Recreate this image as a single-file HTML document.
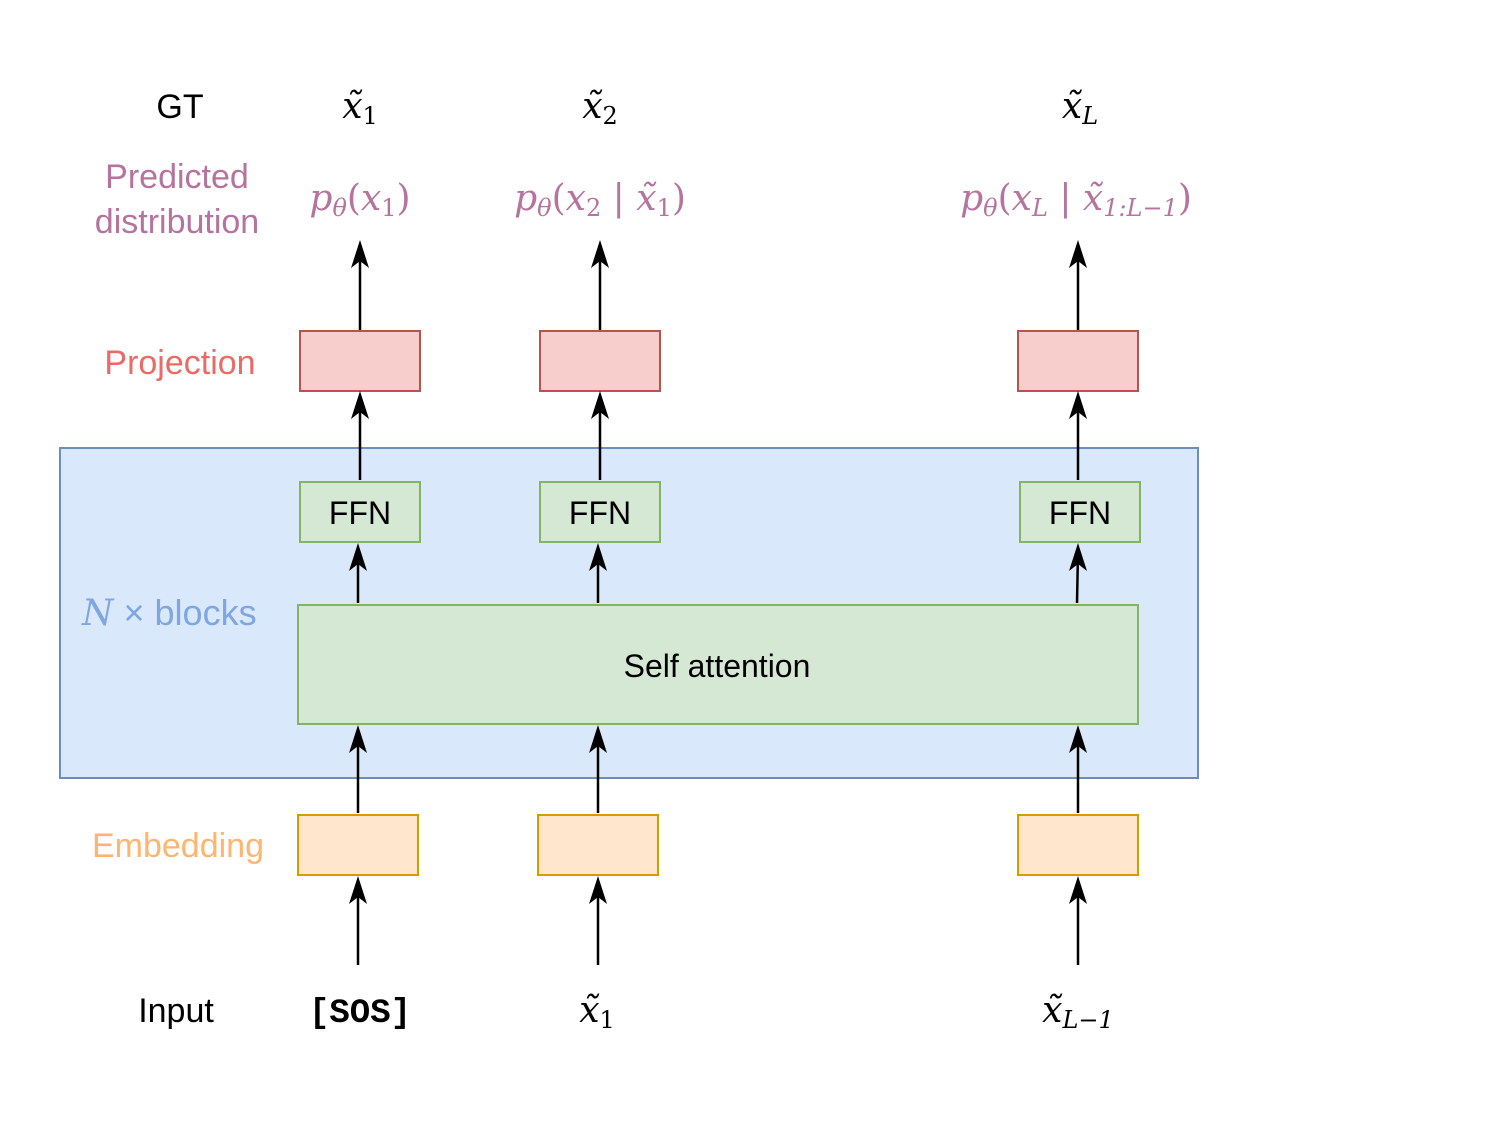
<!DOCTYPE html>
<html><head><meta charset="utf-8"><style>
body{margin:0;background:#fff;}
svg text{font-family:"Liberation Sans",sans-serif;}
svg text.m{font-family:"DejaVu Serif",serif;font-style:italic;}
</style></head><body>
<svg width="1485" height="1116" viewBox="0 0 1485 1116" xmlns="http://www.w3.org/2000/svg">
<rect x="60" y="448" width="1138" height="330" fill="#dae8fc" stroke="#6c8ebf" stroke-width="2"/>
<g fill="#f8cecc" stroke="#b85450" stroke-width="2">
<rect x="300" y="331" width="120" height="60"/><rect x="540" y="331" width="120" height="60"/><rect x="1018" y="331" width="120" height="60"/></g>
<g fill="#d5e8d4" stroke="#82b366" stroke-width="2">
<rect x="300" y="482" width="120" height="60"/><rect x="540" y="482" width="120" height="60"/><rect x="1020" y="482" width="120" height="60"/>
<rect x="298" y="605" width="840" height="119"/></g>
<g fill="#ffe6cc" stroke="#d79b00" stroke-width="2">
<rect x="298" y="815" width="120" height="60"/><rect x="538" y="815" width="120" height="60"/><rect x="1018" y="815" width="120" height="60"/></g>
<g stroke="#000" stroke-width="2.5">
<line x1="360" y1="330" x2="360" y2="250"/><line x1="600" y1="330" x2="600" y2="250"/><line x1="1078" y1="330" x2="1078" y2="250"/>
<line x1="360" y1="480" x2="360" y2="400"/><line x1="600" y1="480" x2="600" y2="400"/><line x1="1078" y1="480" x2="1078" y2="400"/>
<line x1="358" y1="603" x2="358" y2="552"/><line x1="598" y1="603" x2="598" y2="552"/><line x1="1077" y1="603" x2="1078" y2="552"/>
<line x1="358" y1="813" x2="358" y2="734"/><line x1="598" y1="813" x2="598" y2="734"/><line x1="1078" y1="813" x2="1078" y2="734"/>
<line x1="358" y1="965" x2="358" y2="885"/><line x1="598" y1="965" x2="598" y2="885"/><line x1="1078" y1="965" x2="1078" y2="885"/>
</g>
<g fill="#000">
<path d="M360 240 l-9 28 l9 -7 l9 7z"/><path d="M600 240 l-9 28 l9 -7 l9 7z"/><path d="M1078 240 l-9 28 l9 -7 l9 7z"/>
<path d="M360 391 l-9 28 l9 -7 l9 7z"/><path d="M600 391 l-9 28 l9 -7 l9 7z"/><path d="M1078 391 l-9 28 l9 -7 l9 7z"/>
<path d="M358 543 l-9 28 l9 -7 l9 7z"/><path d="M598 543 l-9 28 l9 -7 l9 7z"/><path d="M1078 543 l-9 28 l9 -7 l9 7z"/>
<path d="M358 725 l-9 28 l9 -7 l9 7z"/><path d="M598 725 l-9 28 l9 -7 l9 7z"/><path d="M1078 725 l-9 28 l9 -7 l9 7z"/>
<path d="M358 876 l-9 28 l9 -7 l9 7z"/><path d="M598 876 l-9 28 l9 -7 l9 7z"/><path d="M1078 876 l-9 28 l9 -7 l9 7z"/>
</g>
<g font-size="34" text-anchor="middle">
<text x="180" y="118">GT</text>
<text x="177" y="188" fill="#b5739d">Predicted</text>
<text x="177" y="233" fill="#b5739d">distribution</text>
<text x="180" y="374" fill="#ea6b66">Projection</text>
<text x="178" y="857" fill="#ffb570">Embedding</text>
<text x="176" y="1022">Input</text>
<text x="360" y="524" font-size="32">FFN</text><text x="600" y="524" font-size="32">FFN</text><text x="1080" y="524" font-size="32">FFN</text>
<text x="717" y="677" font-size="32">Self attention</text>
<text x="360" y="1022" style="font-family:'Liberation Mono',monospace;font-weight:bold" font-size="34">[SOS]</text>
</g>
<text x="82" y="625" font-size="36" fill="#7ea6e0"><tspan style="font-family:'DejaVu Serif',serif;font-style:italic">N</tspan> × blocks</text>
<g font-size="36" text-anchor="middle">
<text x="360" y="118" class="m">x̃<tspan font-size="24" font-style="normal" dy="6">1</tspan></text>
<text x="600" y="118" class="m">x̃<tspan font-size="24" font-style="normal" dy="6">2</tspan></text>
<text x="1080" y="118" class="m">x̃<tspan font-size="24" dy="6">L</tspan></text>
<text x="597" y="1022" class="m">x̃<tspan font-size="24" font-style="normal" dy="6">1</tspan></text>
<text x="1078" y="1022" class="m">x̃<tspan font-size="24" dy="6">L−1</tspan></text>
</g>
<g font-size="36" fill="#b5739d" text-anchor="middle">
<text x="360" y="210" class="m">p<tspan font-size="24" dy="6">θ</tspan><tspan dy="-6" font-style="normal">(</tspan>x<tspan font-size="24" dy="6" font-style="normal">1</tspan><tspan dy="-6" font-style="normal">)</tspan></text>
<text x="600" y="210" class="m">p<tspan font-size="24" dy="6">θ</tspan><tspan dy="-6" font-style="normal">(</tspan>x<tspan font-size="24" dy="6" font-style="normal">2</tspan><tspan dy="-6" font-style="normal"> | </tspan>x̃<tspan font-size="24" dy="6" font-style="normal">1</tspan><tspan dy="-6" font-style="normal">)</tspan></text>
<text x="1076" y="210" class="m">p<tspan font-size="24" dy="6">θ</tspan><tspan dy="-6" font-style="normal">(</tspan>x<tspan font-size="24" dy="6">L</tspan><tspan dy="-6" font-style="normal"> | </tspan>x̃<tspan font-size="24" dy="6">1:L−1</tspan><tspan dy="-6" font-style="normal">)</tspan></text>
</g>
</svg>
</body></html>
